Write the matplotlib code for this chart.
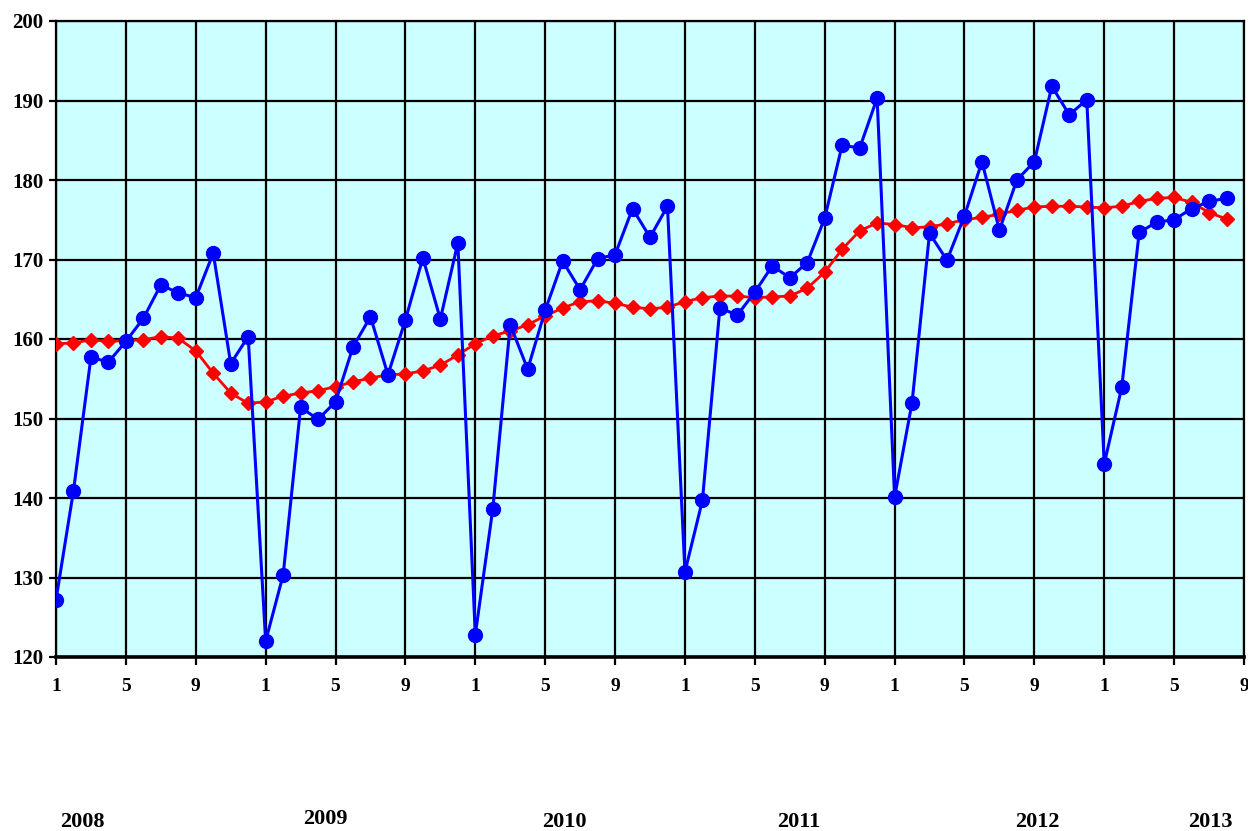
import numpy as np
import matplotlib.pyplot as plt
import matplotlib.transforms as mtransforms

# monthly index values, Jan 2008 .. Aug 2013
actual = [127.2, 140.9, 157.7, 157.1, 159.7, 162.6, 166.8, 165.8, 165.2, 170.8, 156.9, 160.3,
          122.0, 130.3, 151.4, 149.9, 152.1, 159.0, 162.8, 155.5, 162.4, 170.2, 162.5, 172.1,
          122.8, 138.6, 161.8, 156.2, 163.6, 169.8, 166.2, 170.1, 170.6, 176.4, 172.8, 176.7,
          130.7, 139.7, 163.9, 163.0, 165.9, 169.2, 167.7, 169.6, 175.2, 184.4, 184.0, 190.3,
          140.1, 152.0, 173.3, 169.9, 175.5, 182.3, 173.7, 180.0, 182.3, 191.8, 188.2, 190.1,
          144.3, 153.9, 173.4, 174.7, 175.0, 176.4, 177.3, 177.7]

# smoothed (moving average) series
trend = [159.4, 159.5, 159.9, 159.7, 159.8, 159.9, 160.3, 160.1, 158.5, 155.7, 153.2, 151.9,
         152.1, 152.8, 153.2, 153.5, 154.0, 154.6, 155.1, 155.5, 155.6, 156.0, 156.7, 158.0,
         159.4, 160.4, 161.0, 161.8, 162.9, 163.9, 164.7, 164.8, 164.5, 164.0, 163.8, 164.0,
         164.7, 165.2, 165.4, 165.4, 165.2, 165.3, 165.4, 166.4, 168.4, 171.3, 173.6, 174.6,
         174.4, 174.0, 174.1, 174.5, 175.0, 175.3, 175.7, 176.2, 176.6, 176.7, 176.7, 176.6,
         176.5, 176.7, 177.3, 177.7, 177.8, 177.2, 175.9, 175.1]

month_ticks = ["1", "5", "9"]
years = ["2008", "2009", "2010", "2011", "2012", "2013"]
year_x = [1.5, 15.4, 29.1, 42.5, 56.2, 66.1]
year_y = [0.011, 0.014, 0.011, 0.011, 0.011, 0.011]

plt.rcParams['font.family'] = ['Liberation Serif', 'DejaVu Serif']
plt.rcParams['font.weight'] = 'bold'

fig = plt.figure(figsize=(12.48, 8.31), dpi=100)
ax = fig.add_axes([56 / 1248, 1 - 657 / 831, (1244 - 56) / 1248, (657 - 21) / 831])
ax.set_facecolor('#CCFFFF')

x = np.arange(len(actual))
ax.plot(x, trend, color='#FF0000', lw=2, marker='D', ms=7, zorder=3)
ax.plot(x, actual, color='#0000FF', lw=2.2, marker='o', ms=10, zorder=4)

ax.set_xlim(0, 68)
ax.set_ylim(120, 200)
xt = np.arange(0, 69, 4)
ax.set_xticks(xt)
ax.set_xticklabels([month_ticks[(t % 12) // 4] for t in xt])
ax.set_yticks(np.arange(120, 201, 10))

ax.grid(True, color='black', lw=1.6)
ax.set_axisbelow(True)
for s in ax.spines.values():
    s.set_color('black')
    s.set_linewidth(1.6)
ax.spines['bottom'].set_linewidth(2.6)

ax.tick_params(axis='x', direction='out', length=6, width=1.6, pad=9, labelsize=14)
ax.tick_params(axis='y', direction='out', length=5, width=1.6, pad=4, labelsize=15)
for lab in ax.get_xticklabels() + ax.get_yticklabels():
    lab.set_fontweight('bold')

trans = mtransforms.blended_transform_factory(ax.transData, fig.transFigure)
for yr, xx, yy in zip(years, year_x, year_y):
    ax.text(xx, yy, yr, transform=trans, ha='center', va='center',
            fontsize=16, fontweight='bold', clip_on=False)

fig.savefig('out.png', dpi=100)
